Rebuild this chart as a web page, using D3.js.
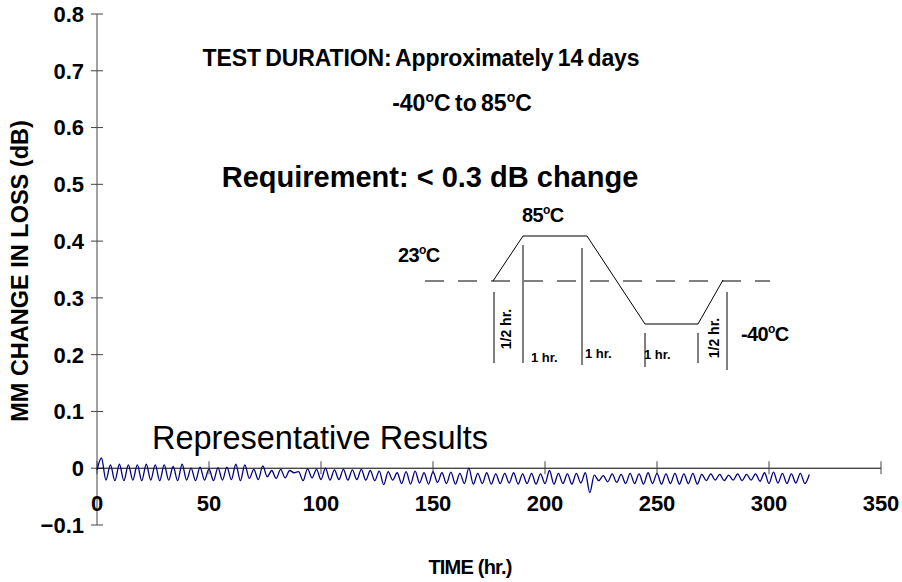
<!DOCTYPE html>
<html>
<head>
<meta charset="utf-8">
<script src="https://cdn.jsdelivr.net/npm/d3@7"></script>
<style>
  body { margin: 0; background: #fff; }
  svg text { font-family: "Liberation Sans", Arial, sans-serif; fill: #000; }
</style>
</head>
<body>
<svg id="chart"></svg>
<script>
// axis ticks
const xTicks = [0, 50, 100, 150, 200, 250, 300, 350];
const yTicks = [-0.1, 0, 0.1, 0.2, 0.3, 0.4, 0.5, 0.6, 0.7, 0.8];

// one reading every 2 hours (hr 0 .. 318), change in loss in dB
const sampleStep = 2;
const lossChange = [
  -0.003, 0.018, -0.021, 0.006, -0.022, 0.007, -0.022, 0.006, -0.021, 0.006,
  -0.022, 0.007, -0.021, 0.006, -0.022, 0.006, -0.021, 0.003, -0.022, 0.007,
  -0.021, 0.000, -0.022, 0.002, -0.021, -0.001, -0.022, 0.001, -0.021, 0.002,
  -0.020, 0.007, -0.022, 0.006, -0.018, -0.002, -0.020, 0.004, -0.015, -0.004,
  -0.018, -0.002, -0.017, -0.004, -0.008, -0.006, -0.022, -0.001, -0.017, -0.002,
  -0.020, 0.000, -0.021, -0.003, -0.020, -0.002, -0.021, -0.003, -0.020, -0.002,
  -0.021, -0.004, -0.022, -0.005, -0.029, -0.006, -0.021, -0.008, -0.027, -0.006,
  -0.028, -0.005, -0.026, -0.008, -0.028, -0.006, -0.025, -0.008, -0.027, -0.007,
  -0.028, -0.009, -0.027, 0.000, -0.028, -0.009, -0.027, -0.008, -0.028, -0.010,
  -0.027, -0.009, -0.026, -0.008, -0.028, -0.010, -0.027, -0.009, -0.028, -0.010,
  -0.027, -0.004, -0.028, -0.009, -0.027, -0.010, -0.028, -0.009, -0.026, -0.008,
  -0.043, -0.012, -0.022, -0.013, -0.024, -0.010, -0.025, -0.011, -0.027, -0.009,
  -0.027, -0.010, -0.028, -0.008, -0.027, -0.009, -0.028, -0.010, -0.027, -0.009,
  -0.028, -0.010, -0.027, -0.009, -0.028, -0.011, -0.022, -0.010, -0.021, -0.011,
  -0.022, -0.012, -0.021, -0.010, -0.022, -0.011, -0.021, -0.010, -0.023, -0.008,
  -0.027, -0.007, -0.026, -0.009, -0.027, -0.010, -0.026, -0.009, -0.027, -0.011
];

const data = lossChange.map((v, i) => ({hr: i * sampleStep, value: v}));

const width = 902, height = 582;
const svg = d3.select("#chart").attr("width", width).attr("height", height);

const x = d3.scaleLinear().domain([0, 350]).range([97, 881]);
const y = d3.scaleLinear().domain([-0.1, 0.8]).range([525, 14]);

// y axis, ticks crossing the line
const yAxis = svg.append("g").attr("transform", `translate(${x(0)},0)`);
yAxis.append("line").attr("y1", y(0.8)).attr("y2", y(-0.1)).attr("stroke", "#444");
yAxis.selectAll(".yt").data(yTicks).enter().append("line")
    .attr("x1", -6).attr("x2", 6)
    .attr("y1", d => y(d)).attr("y2", d => y(d))
    .attr("stroke", "#444");
yAxis.selectAll(".yl").data(yTicks).enter().append("text")
    .attr("x", -13).attr("y", d => y(d)).attr("dy", "0.36em")
    .attr("text-anchor", "end")
    .style("font-size", "22px").style("font-weight", "bold")
    .text(d => d3.format(".1~f")(d));

// x axis along y = 0
const xAxis = svg.append("g").attr("transform", `translate(0,${y(0)})`);
xAxis.append("line").attr("x1", x(0)).attr("x2", x(350)).attr("stroke", "#000");
xAxis.selectAll(".xt").data(xTicks).enter().append("line")
    .attr("x1", d => x(d)).attr("x2", d => x(d))
    .attr("y1", -7).attr("y2", 6)
    .attr("stroke", "#444");
xAxis.selectAll(".xl").data(xTicks).enter().append("text")
    .attr("x", d => x(d)).attr("y", 43)
    .attr("text-anchor", "middle")
    .style("font-size", "22px").style("font-weight", "bold")
    .text(d => d);

// data line
svg.append("path")
    .datum(data)
    .attr("fill", "none")
    .attr("stroke", "#000080")
    .attr("stroke-width", 1.3)
    .attr("d", d3.line().x(d => x(d.hr)).y(d => y(d.value)).curve(d3.curveMonotoneX));

// axis titles
svg.append("text")
    .attr("transform", `translate(28,271) rotate(-90)`)
    .attr("text-anchor", "middle")
    .style("font-size", "23.5px").style("font-weight", "bold")
    .text("MM CHANGE IN LOSS (dB)");

svg.append("text")
    .attr("x", 470).attr("y", 574)
    .attr("text-anchor", "middle")
    .style("font-size", "20px").style("font-weight", "bold").style("letter-spacing", "-0.8px")
    .text("TIME (hr.)");

// annotations
svg.append("text")
    .attr("x", 421).attr("y", 66)
    .attr("text-anchor", "middle")
    .style("font-size", "23px").style("font-weight", "bold")
    .style("letter-spacing", "-0.1px").style("word-spacing", "-2px")
    .text("TEST DURATION: Approximately 14 days");

const range = svg.append("text")
    .attr("x", 462).attr("y", 111)
    .attr("text-anchor", "middle")
    .style("font-size", "23px").style("font-weight", "bold")
    .style("letter-spacing", "0px").style("word-spacing", "-2px");
range.append("tspan").text("-40");
range.append("tspan").attr("dy", -9).style("font-size", "14px").text("o");
range.append("tspan").attr("dy", 9).text("C to 85");
range.append("tspan").attr("dy", -9).style("font-size", "14px").text("o");
range.append("tspan").attr("dy", 9).text("C");

svg.append("text")
    .attr("x", 430).attr("y", 187)
    .attr("text-anchor", "middle")
    .style("font-size", "29px").style("font-weight", "bold")
    .text("Requirement: < 0.3 dB change");

svg.append("text")
    .attr("x", 152).attr("y", 449)
    .style("font-size", "32.5px")
    .text("Representative Results");

// temperature cycle sketch
const inset = svg.append("g");
const degLabel = (px, py, t, size) => {
    const el = inset.append("text").attr("x", px).attr("y", py)
        .style("font-size", size + "px").style("font-weight", "bold").style("letter-spacing", "-0.6px");
    el.append("tspan").text(t);
    el.append("tspan").attr("dy", -8).style("font-size", (size * 0.6) + "px").text("o");
    el.append("tspan").attr("dy", 8).text("C");
};
degLabel(522, 222, "85", 20);
degLabel(398, 262, "23", 20);
degLabel(741, 341, "-40", 20);

inset.append("line")
    .attr("x1", 425).attr("x2", 770).attr("y1", 281).attr("y2", 281)
    .attr("stroke", "#000").attr("stroke-dasharray", "19,14");

inset.append("path")
    .attr("fill", "none").attr("stroke", "#000")
    .attr("d", d3.line()([[493, 281], [523, 236], [587, 236], [645, 324], [698, 324], [723, 280]]));

const markers = [[494, 292, 363], [523, 245, 363], [582, 248, 365], [645, 333, 367], [698, 333, 363], [727, 292, 370]];
inset.selectAll(".mk").data(markers).enter().append("line")
    .attr("x1", d => d[0]).attr("x2", d => d[0])
    .attr("y1", d => d[1]).attr("y2", d => d[2])
    .attr("stroke", "#000");

const small = [[531, 362, "1 hr."], [585, 358, "1 hr."], [644, 359, "1 hr."]];
inset.selectAll(".sm").data(small).enter().append("text")
    .attr("x", d => d[0]).attr("y", d => d[1])
    .style("font-size", "13px").style("font-weight", "bold")
    .text(d => d[2]);

[[511, 329], [719, 338]].forEach(p => {
    inset.append("text")
        .attr("transform", `translate(${p[0]},${p[1]}) rotate(-90)`)
        .attr("text-anchor", "middle")
        .style("font-size", "14px").style("font-weight", "bold")
        .text("1/2 hr.");
});
</script>
</body>
</html>
